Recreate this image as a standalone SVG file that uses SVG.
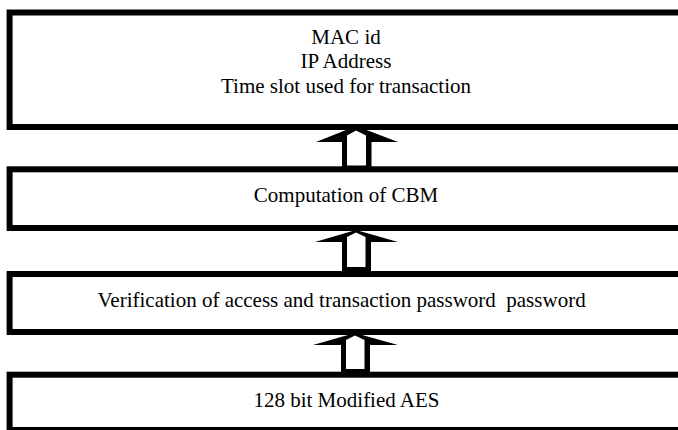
<svg xmlns="http://www.w3.org/2000/svg" width="678" height="430" viewBox="0 0 678 430">
<style>
.box{fill:#fff;stroke:#000;stroke-width:6}
.t{font-family:"Liberation Serif","Times New Roman",serif;font-size:21px;fill:#000;text-anchor:middle}
.ao{fill:#000}
.ai{fill:#fff}
</style>
<rect width="678" height="430" fill="#fff"/>
<g id="node-ids">
<rect class="box" x="9.6" y="12.5" width="700" height="114.5"/>
<text class="t" x="346" y="44.3">MAC id</text>
<text class="t" x="346" y="68.3">IP Address</text>
<text class="t" x="346" y="92.7">Time slot used for transaction</text>
</g>
<g id="node-cbm">
<rect class="box" x="9.6" y="169.3" width="700" height="58.7"/>
<text class="t" x="346" y="202.3">Computation of CBM</text>
</g>
<g id="node-verify">
<rect class="box" x="9.6" y="274" width="700" height="58"/>
<text class="t" x="341.6" y="306.7" xml:space="preserve">Verification of access and transaction password  password</text>
</g>
<g id="node-aes">
<rect class="box" x="9.6" y="374.7" width="700" height="55.3"/>
<text class="t" x="346.5" y="406.7">128 bit Modified AES</text>
</g>
<g id="connectors">
<g id="arrow-cbm-ids">
<polygon class="ao" points="356,126 316,142 342,142 342,168 371.5,168 371.5,142 398,142"/>
<polygon class="ai" points="356,130.5 347,135.5 347,165.5 366,165.5 366,135.5"/>
</g>
<g id="arrow-verify-cbm">
<polygon class="ao" points="356,230 315,242 342,242 342,272 371,272 371,242 398,242"/>
<polygon class="ai" points="356,232.5 347,237 347,267 365.5,267 365.5,237"/>
</g>
<g id="arrow-aes-verify">
<polygon class="ao" points="355,333 313,345 341,345 341,373 370,373 370,345 398,345"/>
<polygon class="ai" points="355,335.5 346,340 346,369 364.5,369 364.5,340"/>
</g>
</g>
</svg>
